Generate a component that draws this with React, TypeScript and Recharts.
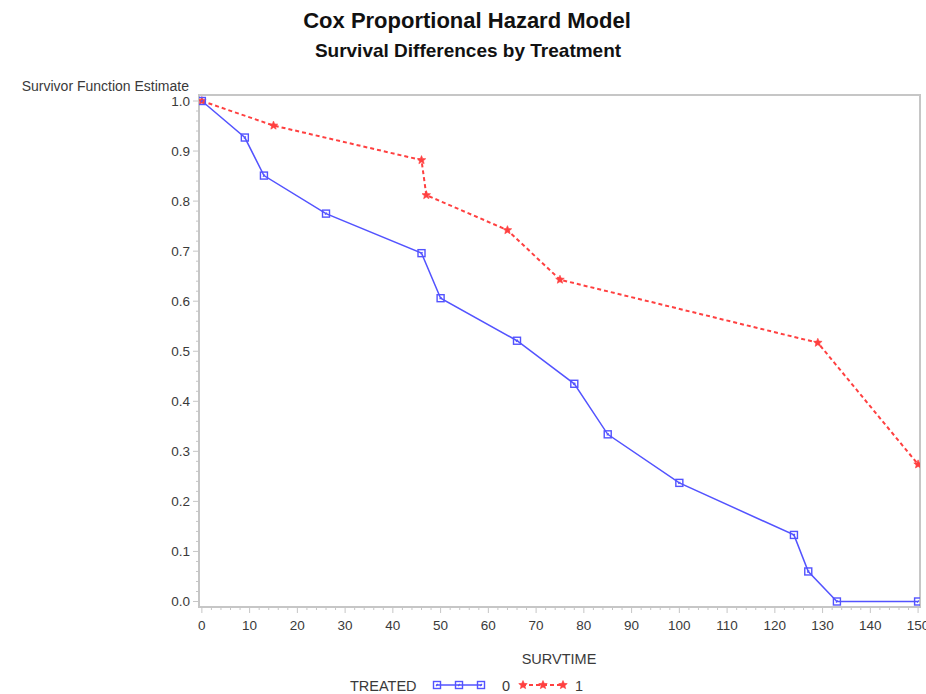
import * as React from "react"
import { LineChart, Line, XAxis, YAxis, ReferenceArea } from "recharts"

// survival estimates
const time0 = [0, 9, 13, 26, 46, 50, 66, 78, 85, 100, 124, 127, 133, 150]
const surv0 = [1.0, 0.927, 0.851, 0.775, 0.696, 0.606, 0.521, 0.435, 0.334, 0.237, 0.133, 0.06, 0.0, 0.0]
const time1 = [0, 15, 46, 47, 64, 75, 129, 150]
const surv1 = [1.0, 0.951, 0.882, 0.812, 0.742, 0.643, 0.517, 0.274]

const xMajorTicks = [0, 10, 20, 30, 40, 50, 60, 70, 80, 90, 100, 110, 120, 130, 140, 150]
const yMajorTicks = [0.0, 0.1, 0.2, 0.3, 0.4, 0.5, 0.6, 0.7, 0.8, 0.9, 1.0]
const xTicks = Array.from({ length: 76 }, (_, i) => i * 2)
const yTicks = Array.from({ length: 51 }, (_, i) => Math.round(i * 2) / 100)

const data0 = time0.map((t, i) => ({ t, s: surv0[i] }))
const data1 = time1.map((t, i) => ({ t, s: surv1[i] }))

const X_DOMAIN: [number, number] = [-0.6, 150.4]
const Y_DOMAIN: [number, number] = [-0.011, 1.012]

const BLUE = "#5353ff"
const RED = "#ff4040"
const FRAME = "#c6c6c6"
const TEXT = "#3a3a3a"
const FONT = "'Liberation Sans', Arial, sans-serif"

const XTick = (props: any) => {
  const { x, y, payload } = props
  const major = xMajorTicks.includes(payload.value)
  return (
    <g>
      <line x1={x} x2={x} y1={y} y2={y + (major ? 6 : 3)} stroke={FRAME} strokeWidth={1} />
      {major && (
        <text x={x} y={y + 23} textAnchor="middle" fontSize={13.5} fill={TEXT} fontFamily={FONT}>
          {payload.value}
        </text>
      )}
    </g>
  )
}

const YTick = (props: any) => {
  const { x, y, payload } = props
  const major = yMajorTicks.some((v) => Math.abs(v - payload.value) < 1e-6)
  return (
    <g>
      <line x1={x} x2={x - (major ? 6 : 3)} y1={y} y2={y} stroke={FRAME} strokeWidth={1} />
      {major && (
        <text x={x - 9} y={y + 5} textAnchor="end" fontSize={13.5} fill={TEXT} fontFamily={FONT}>
          {payload.value.toFixed(1)}
        </text>
      )}
    </g>
  )
}

const SquareMark = ({ cx, cy }: { cx: number; cy: number }) => (
  <g>
    <rect x={cx - 3.5} y={cy - 3.5} width={7} height={7} fill="none" stroke={BLUE} strokeWidth={1.4} />
    <line x1={cx - 1} y1={cy + 1} x2={cx + 1} y2={cy - 1} stroke={BLUE} strokeWidth={1.2} />
  </g>
)

const starPoints = (cx: number, cy: number, r: number) => {
  const pts: string[] = []
  for (let i = 0; i < 10; i++) {
    const rr = i % 2 === 0 ? r : r * 0.45
    const a = -Math.PI / 2 + (i * Math.PI) / 5
    pts.push(`${cx + rr * Math.cos(a)},${cy + rr * Math.sin(a)}`)
  }
  return pts.join(" ")
}

const StarMark = ({ cx, cy }: { cx: number; cy: number }) => (
  <polygon points={starPoints(cx, cy, 4.5)} fill={RED} stroke={RED} strokeWidth={0.6} />
)

const renderSquare = (p: any) => <SquareMark key={`sq-${p.index}`} cx={p.cx} cy={p.cy} />
const renderStar = (p: any) => <StarMark key={`st-${p.index}`} cx={p.cx} cy={p.cy} />

export default function App() {
  return (
    <div style={{ position: "absolute", left: 0, top: 0, width: 926, height: 694, background: "#fff" }}>
      <LineChart width={926} height={694} margin={{ top: 95, right: 6, bottom: 57, left: 0 }}>
        <XAxis
          dataKey="t"
          type="number"
          domain={X_DOMAIN}
          ticks={xTicks}
          interval={0}
          allowDataOverflow
          height={30}
          tickSize={0}
          tickMargin={0}
          axisLine={{ stroke: FRAME, strokeWidth: 2 }}
          tickLine={false}
          tick={<XTick />}
        />
        <YAxis
          dataKey="s"
          type="number"
          domain={Y_DOMAIN}
          ticks={yTicks}
          interval={0}
          allowDataOverflow
          width={199}
          tickSize={0}
          tickMargin={0}
          axisLine={{ stroke: FRAME, strokeWidth: 2 }}
          tickLine={false}
          tick={<YTick />}
        />
        <ReferenceArea
          x1={X_DOMAIN[0]}
          x2={X_DOMAIN[1]}
          y1={Y_DOMAIN[0]}
          y2={Y_DOMAIN[1]}
          fill="none"
          stroke={FRAME}
          strokeWidth={2}
          fillOpacity={0}
          ifOverflow="visible"
        />
        <Line
          data={data1}
          dataKey="s"
          type="linear"
          stroke={RED}
          strokeWidth={2}
          strokeDasharray="4 3"
          dot={renderStar}
          activeDot={false}
          isAnimationActive={false}
        />
        <Line
          data={data0}
          dataKey="s"
          type="linear"
          stroke={BLUE}
          strokeWidth={1.5}
          dot={renderSquare}
          activeDot={false}
          isAnimationActive={false}
        />
      </LineChart>
      <svg
        width={926}
        height={694}
        style={{ position: "absolute", left: 0, top: 0, pointerEvents: "none" }}
        fontFamily={FONT}
      >
        <text x={467} y={28} textAnchor="middle" fontSize={22} fontWeight="bold" fill="#111">
          Cox Proportional Hazard Model
        </text>
        <text x={468} y={57} textAnchor="middle" fontSize={19} fontWeight="bold" fill="#111">
          Survival Differences by Treatment
        </text>
        <text x={189} y={91} textAnchor="end" fontSize={14} fill={TEXT}>
          Survivor Function Estimate
        </text>
        <text x={559} y={664} textAnchor="middle" fontSize={14.5} fill={TEXT}>
          SURVTIME
        </text>
        <text x={350} y={691} fontSize={14.5} fill={TEXT}>
          TREATED
        </text>
        <line x1={436} x2={482} y1={685} y2={685} stroke={BLUE} strokeWidth={1.5} />
        <SquareMark cx={437} cy={685} />
        <SquareMark cx={459} cy={685} />
        <SquareMark cx={481} cy={685} />
        <text x={502} y={691} fontSize={14.5} fill={TEXT}>
          0
        </text>
        <line x1={522} x2={564} y1={685} y2={685} stroke={RED} strokeWidth={2} strokeDasharray="4 3" />
        <StarMark cx={523} cy={685} />
        <StarMark cx={543} cy={685} />
        <StarMark cx={563} cy={685} />
        <text x={575} y={691} fontSize={14.5} fill={TEXT}>
          1
        </text>
      </svg>
    </div>
  )
}
